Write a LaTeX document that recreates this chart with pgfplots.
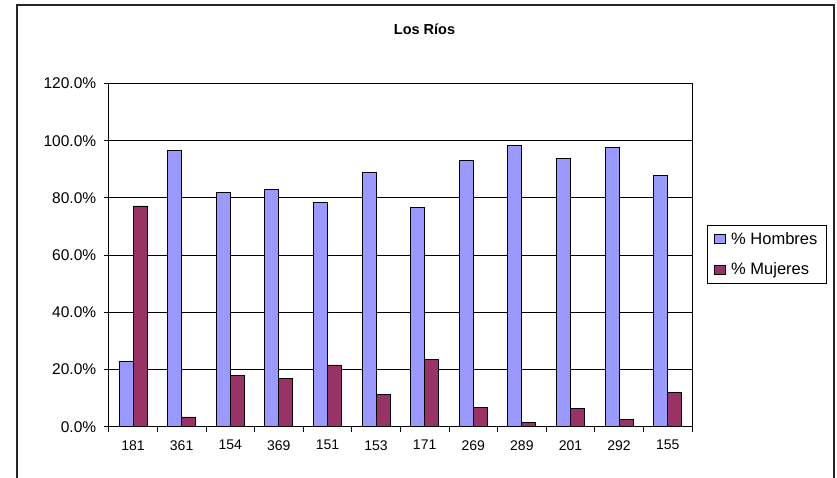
\documentclass[border=0pt]{standalone}
\usepackage{fontspec}
\setmainfont{Liberation Sans}
\usepackage{pgfplots}
\usepackage{pgfplotstable}
\pgfplotsset{compat=1.18}
\definecolor{hom}{HTML}{9999FF}
\definecolor{muj}{HTML}{993366}
\pgfplotstableread{
x cat hom muj
0 181 22.8 77.2
1 361 96.6 3.4
2 154 82.0 18.0
3 369 83.0 17.0
4 151 78.4 21.6
5 153 88.8 11.2
6 171 76.6 23.4
7 269 93.2 6.8
8 289 98.4 1.6
9 201 93.7 6.3
10 292 97.6 2.4
11 155 87.9 12.1
}\datatable
\begin{document}
\begin{tikzpicture}[x=1pt,y=1pt]
\useasboundingbox (0,0) rectangle (837,477);
\draw[line width=1.3pt,black!85] (17,-2) -- (17,472) -- (834,472) -- (834,-2);
\node[font=\fontsize{14.5}{17}\selectfont\bfseries] at (424.5,448) {Los Ríos};
\begin{axis}[
  at={(108.7pt,50.3pt)}, anchor=south west,
  scale only axis, width=583.3pt, height=343.2pt,
  ybar=0pt, bar width=14pt,
  xmin=-0.5, xmax=11.5, ymin=0, ymax=120,
  xtick={0,...,11},
  xticklabels={181,361,154,369,151,153,171,269,289,201,292,155},
  minor xtick={-0.5,0.5,...,11.5},
  ytick={0,20,...,120},
  yticklabels={0.0\%,20.0\%,40.0\%,60.0\%,80.0\%,100.0\%,120.0\%},
  /pgf/number format/assume math mode=true,
  xtick pos=bottom, ytick pos=left,
  tick align=outside,
  x tick style={draw=none},
  minor x tick style={draw=black, line width=0.8pt},
  minor tick length=5pt,
  major tick length=5pt,
  y tick style={black, line width=0.8pt},
  ymajorgrids, grid style={black, line width=0.8pt},
  axis line style={black, line width=0.9pt},
  xticklabel style={font=\fontsize{14}{16}\selectfont, yshift=-5pt},
  yticklabel style={font=\fontsize{15.5}{18}\selectfont, xshift=-4pt},
  legend style={at={(1.0257,0.5877)}, anchor=north west,
    draw=black, line width=0.8pt, inner xsep=7pt, inner ysep=5pt,
    font=\fontsize{16.5}{19}\selectfont, row sep=13pt},
  legend cell align=left,
  legend image code/.code={\draw[#1, line width=0.8pt] (0pt,-4.5pt) rectangle (11pt,4.5pt); \path (14pt,0pt);},
]
\addplot[fill=hom, draw=black, line width=0.8pt] table[x=x,y=hom]{\datatable};
\addplot[fill=muj, draw=black, line width=0.8pt] table[x=x,y=muj]{\datatable};
\legend{\% Hombres,\% Mujeres}
\end{axis}
\end{tikzpicture}
\end{document}
